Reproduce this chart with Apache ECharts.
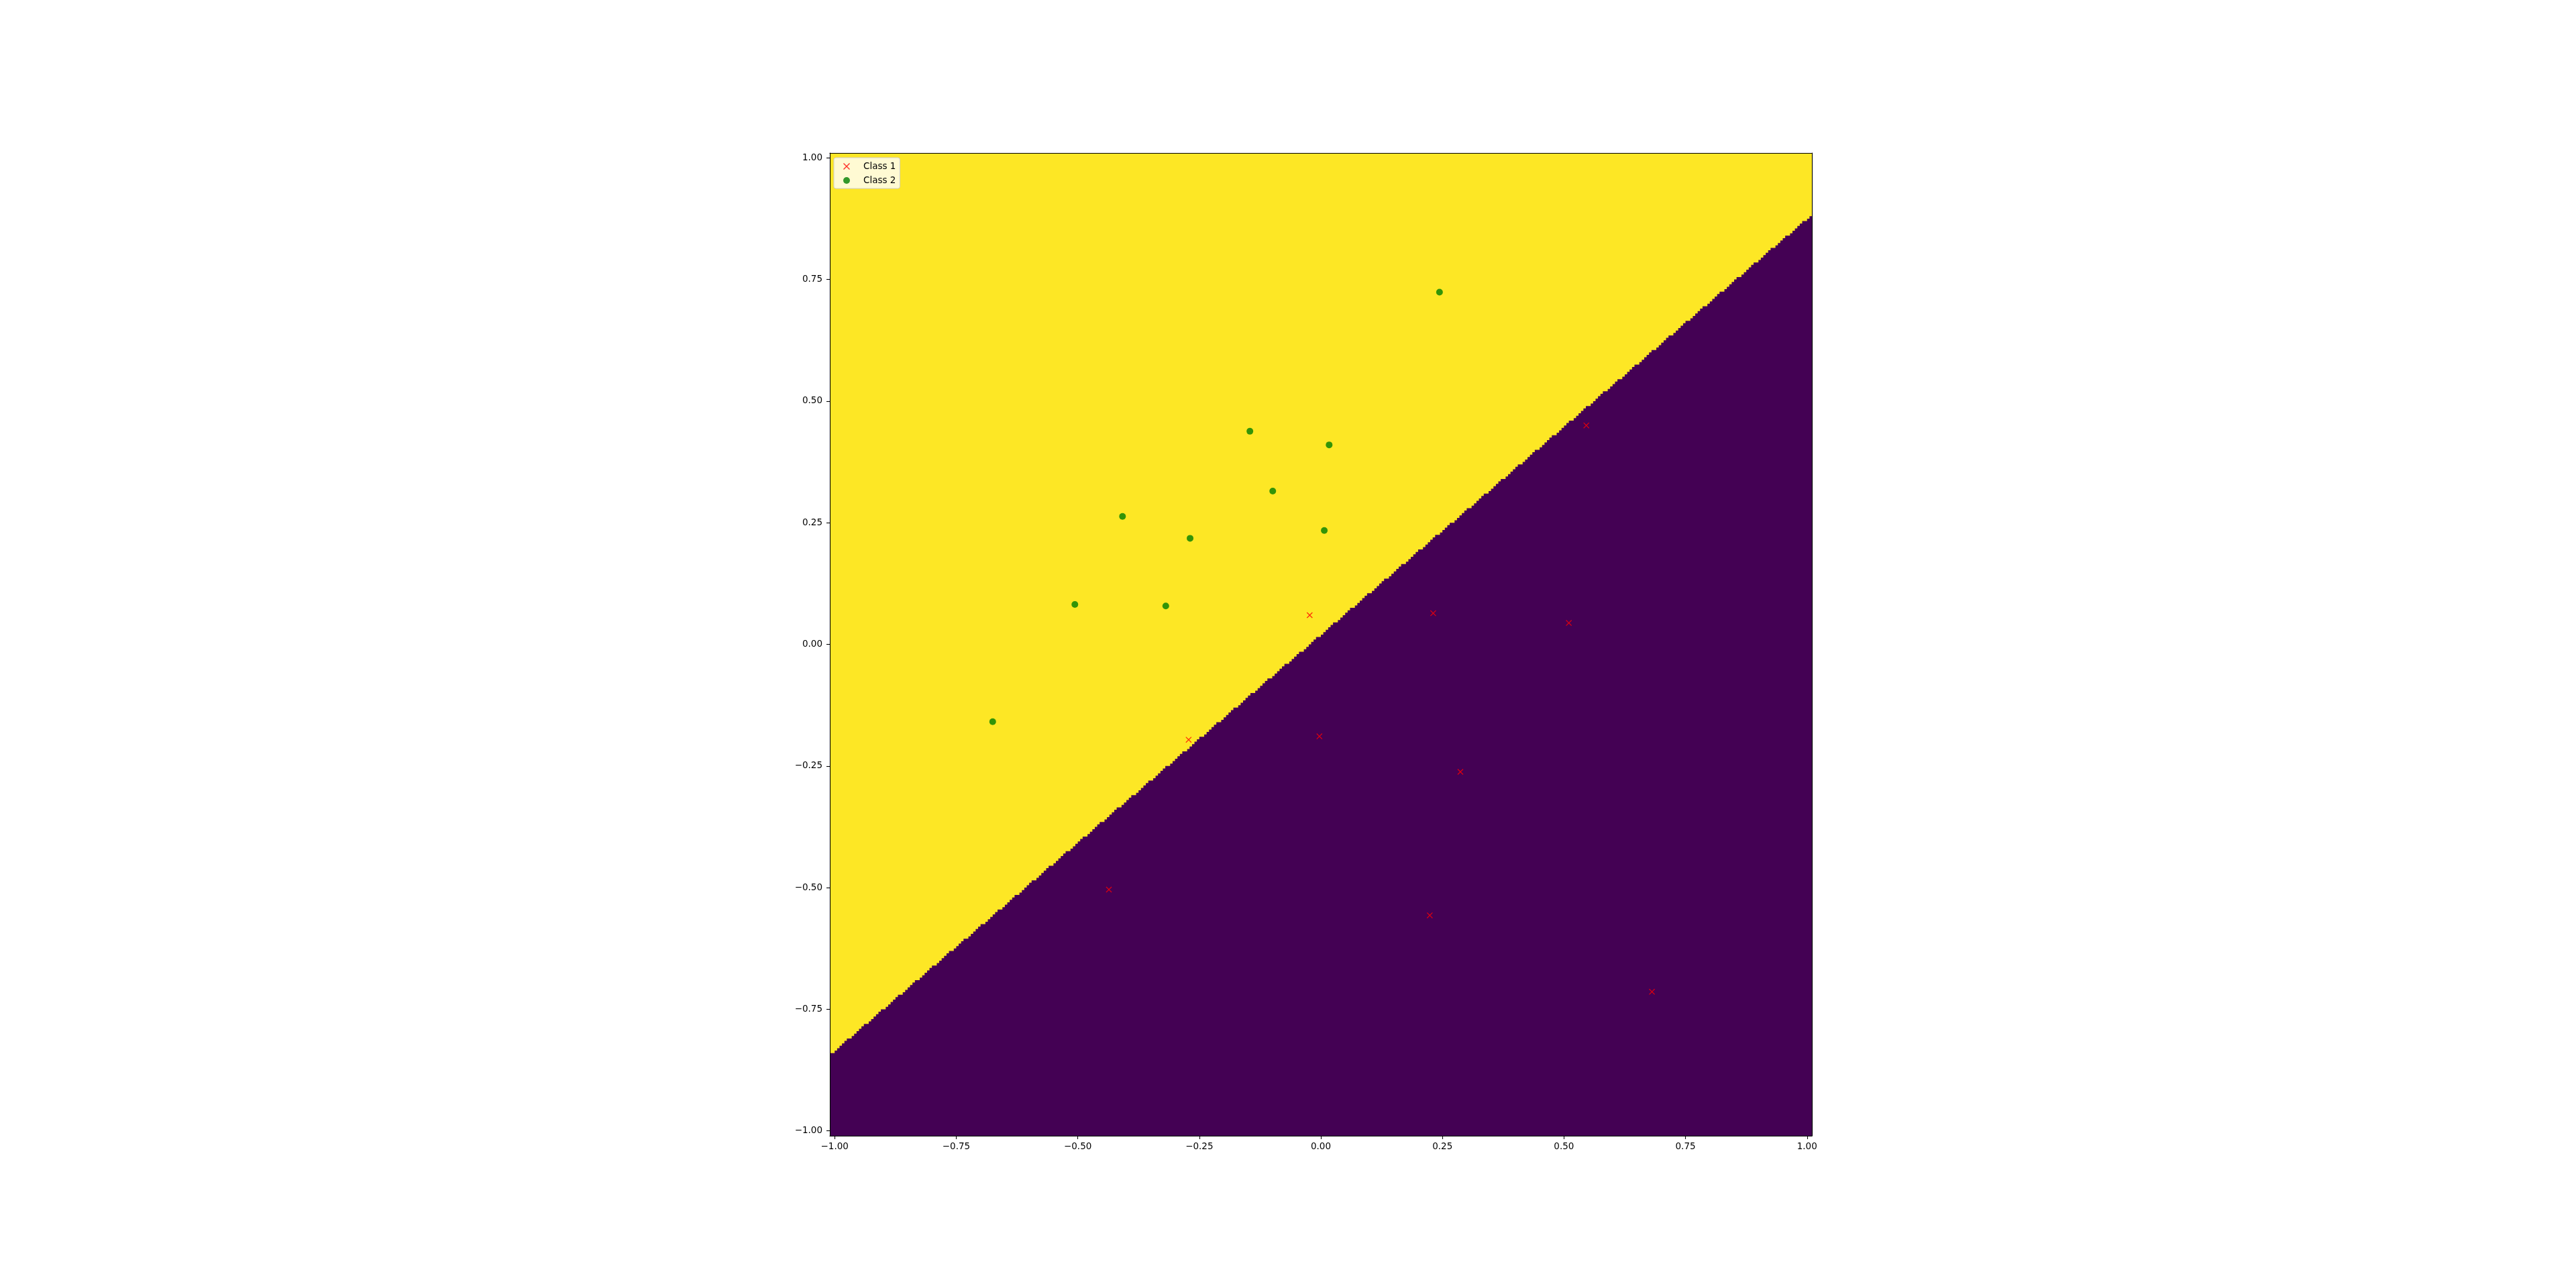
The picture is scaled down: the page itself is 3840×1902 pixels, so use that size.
<!DOCTYPE html>
<html>
<head>
<meta charset="utf-8">
<script src="https://cdn.jsdelivr.net/npm/echarts@6/dist/echarts.min.js"></script>
<style>
html, body { margin: 0; padding: 0; background: #fff; }
#main { width: 3840px; height: 1902px; }
</style>
</head>
<body>
<div id="main"></div>
<script>
// Class 1 (red x)
var class1X = [0.546, -0.023, 0.231, 0.510, -0.272, -0.003, 0.287, -0.436, 0.224, 0.681];
var class1Y = [0.450, 0.060, 0.064, 0.044, -0.196, -0.189, -0.262, -0.504, -0.557, -0.714];
// Class 2 (green dots)
var class2X = [0.244, -0.146, 0.017, -0.099, -0.408, -0.269, 0.007, -0.506, -0.319, -0.675];
var class2Y = [0.724, 0.438, 0.410, 0.315, 0.263, 0.218, 0.234, 0.082, 0.079, -0.159];

var tickValues = [-1, -0.75, -0.5, -0.25, 0, 0.25, 0.5, 0.75, 1];

// linear classifier: w0*x + w1*y + b > 0 -> class 2 region (yellow)
var weights = [-0.855, 1.0];
var bias = -0.0195;
// mesh used for the decision surface
var meshMin = -1.01, meshMax = 1.01, meshStep = 0.005;

var X_PATH = 'path://M1,0L5,4L9,0L10,1L6,5L10,9L9,10L5,6L1,10L0,9L4,5L0,1Z';

function pairs(xs, ys) {
	var out = [];
	for (var i = 0; i < xs.length; i++) {
		out.push([xs[i], ys[i]]);
	}
	return out;
}

function fmt(v) {
	return (v < 0 ? '\u2212' : '') + Math.abs(v).toFixed(2);
}

// purple (class 1) part of the mesh, column by column
function renderRegion(params, api) {
	var n = Math.round((meshMax - meshMin) / meshStep);
	var pts = [api.coord([meshMin, meshMin])];
	for (var i = 0; i < n; i++) {
		var x0 = meshMin + i * meshStep;
		var xc = x0 + meshStep / 2;
		var yb = -(weights[0] * xc + bias) / weights[1];
		var k = Math.ceil((yb - meshMin) / meshStep - 0.5);
		k = Math.max(0, Math.min(n, k));
		var top = meshMin + k * meshStep;
		pts.push(api.coord([x0, top]), api.coord([x0 + meshStep, top]));
	}
	pts.push(api.coord([meshMax, meshMin]));
	return {
		type: 'polygon',
		shape: { points: pts },
		style: { fill: '#440154' }
	};
}

var font = 'DejaVu Sans';

function spine() {
	return { show: true, onZero: false, lineStyle: { color: '#000', width: 1.1 } };
}

function mainAxis(pos) {
	return {
		type: 'value',
		position: pos,
		min: meshMin,
		max: meshMax,
		z: 5,
		axisLine: spine(),
		axisTick: {
			show: true,
			customValues: tickValues,
			length: 5,
			lineStyle: { color: '#000', width: 1.1 }
		},
		axisLabel: {
			customValues: tickValues,
			formatter: fmt,
			fontFamily: font,
			fontSize: 13.5,
			color: '#000',
			margin: pos === 'left' ? 11 : 9
		},
		splitLine: { show: false }
	};
}

function sideAxis(pos) {
	return {
		type: 'value',
		position: pos,
		min: meshMin,
		max: meshMax,
		z: 5,
		axisLine: spine(),
		axisTick: { show: false },
		axisLabel: { show: false },
		splitLine: { show: false }
	};
}

var chart = echarts.init(document.getElementById('main'));
chart.setOption({
	animation: false,
	backgroundColor: '#fff',
	grid: {
		left: 1237,
		top: 228,
		width: 1464,
		height: 1465,
		show: true,
		backgroundColor: '#fde725',
		borderWidth: 0
	},
	xAxis: [mainAxis('bottom'), sideAxis('top')],
	yAxis: [mainAxis('left'), sideAxis('right')],
	legend: {
		orient: 'vertical',
		left: 1243,
		top: 235,
		padding: [6, 6, 5, 14],
		itemWidth: 10,
		itemHeight: 10,
		itemGap: 7,
		backgroundColor: 'rgba(255,255,255,0.8)',
		borderColor: '#cccccc',
		borderWidth: 1,
		borderRadius: 3,
		textStyle: {
			fontFamily: font,
			fontSize: 13.5,
			color: '#000',
			lineHeight: 14,
			padding: [0, 0, 0, 15]
		},
		data: [
			{ name: 'Class 1', icon: X_PATH },
			{ name: 'Class 2', icon: 'circle' }
		]
	},
	series: [{
		type: 'custom',
		name: 'region',
		z: 1,
		clip: true,
		silent: true,
		renderItem: renderRegion,
		data: [[0, 0]]
	}, {
		type: 'scatter',
		name: 'Class 1',
		z: 3,
		symbol: X_PATH,
		symbolSize: 9,
		itemStyle: { color: '#ff0000' },
		data: pairs(class1X, class1Y)
	}, {
		type: 'scatter',
		name: 'Class 2',
		z: 3,
		symbol: 'circle',
		symbolSize: 10,
		itemStyle: { color: '#008000' },
		data: pairs(class2X, class2Y)
	}]
});
</script>
</body>
</html>
